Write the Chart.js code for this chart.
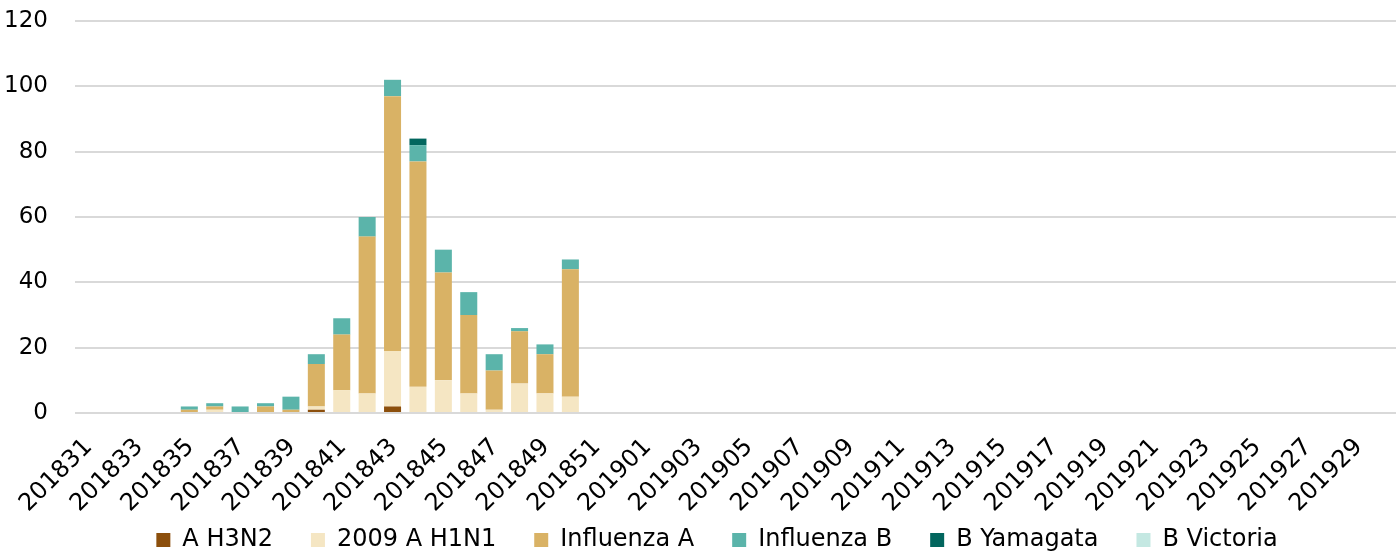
<!DOCTYPE html>
<html>
<head>
<title>Influenza per week</title>
<style>
    body { margin: 0; background: #fff; }
    #wrap { width: 1396px; height: 552px; position: relative; }
</style>
</head>
<body>
<div id="wrap"><canvas id="chart"></canvas></div>
<script src="https://cdn.jsdelivr.net/npm/chart.js@4/dist/chart.umd.min.js"></script>
<script>
// weken 201831 t/m 201930
const weeks = [
    '201831','201832','201833','201834','201835','201836','201837','201838','201839','201840','201841',
    '201842','201843','201844','201845','201846','201847','201848','201849','201850','201851','201852',
    '201901','201902','201903','201904','201905','201906','201907','201908','201909','201910',
    '201911','201912','201913','201914','201915','201916','201917','201918','201919','201920',
    '201921','201922','201923','201924','201925','201926','201927','201928','201929','201930'
];

const aH3N2 = [0,0,0,0,0,0,0,0,0,1,0,0,2,0,0,0,0,0,0,0,0,0,
    0,0,0,0,0,0,0,0,0,0,0,0,0,0,0,0,0,0,0,0,0,0,0,0,0,0,0,0,0,0];
const h1n1 = [0,0,0,0,0,1,0,0,0,1,7,6,17,8,10,6,1,9,6,5,0,0,
    0,0,0,0,0,0,0,0,0,0,0,0,0,0,0,0,0,0,0,0,0,0,0,0,0,0,0,0,0,0];
const influenzaA = [0,0,0,0,1,1,0,2,1,13,17,48,78,69,33,24,12,16,12,39,0,0,
    0,0,0,0,0,0,0,0,0,0,0,0,0,0,0,0,0,0,0,0,0,0,0,0,0,0,0,0,0,0];
const influenzaB = [0,0,0,0,1,1,2,1,4,3,5,6,5,5,7,7,5,1,3,3,0,0,
    0,0,0,0,0,0,0,0,0,0,0,0,0,0,0,0,0,0,0,0,0,0,0,0,0,0,0,0,0,0];
const bYamagata = [0,0,0,0,0,0,0,0,0,0,0,0,0,2,0,0,0,0,0,0,0,0,
    0,0,0,0,0,0,0,0,0,0,0,0,0,0,0,0,0,0,0,0,0,0,0,0,0,0,0,0,0,0];
const bVictoria = [0,0,0,0,0,0,0,0,0,0,0,0,0,0,0,0,0,0,0,0,0,0,
    0,0,0,0,0,0,0,0,0,0,0,0,0,0,0,0,0,0,0,0,0,0,0,0,0,0,0,0,0,0];

const yTicks = [0, 20, 40, 60, 80, 100, 120];

Chart.defaults.font.family = '"DejaVu Sans", sans-serif';
Chart.defaults.color = '#000';

function serie(label, data, color) {
    return { label: label, data: data, backgroundColor: color, borderWidth: 0 };
}

// legenda: ruime horizontale afstand, maar niet zo hoog
const legendPad = 38;

// legenda iets naar rechts en omhoog schuiven, zoals in Excel
const legendShift = {
    id: 'legendShift',
    afterLayout(chart) {
        const lg = chart.legend;
        if (!lg) return;
        lg.left += 34;
        lg.top = 540 - 12 - legendPad;
        lg.bottom = chart.height;
    }
};

new Chart(document.getElementById('chart'), {
    type: 'bar',
    data: {
        labels: weeks,
        datasets: [
            serie('A H3N2', aH3N2, '#8c4f0c'),
            serie('2009 A H1N1', h1n1, '#f5e6c3'),
            serie('Influenza A', influenzaA, '#d9b265'),
            serie('Influenza B', influenzaB, '#5bb4aa'),
            serie('B Yamagata', bYamagata, '#02665e'),
            serie('B Victoria', bVictoria, '#c4e8e2')
        ]
    },
    options: {
        responsive: true,
        maintainAspectRatio: false,
        animation: false,
        layout: { padding: { top: 21, right: 0, left: 4, bottom: 0 } },
        datasets: { bar: { barPercentage: 0.67, categoryPercentage: 1 } },
        scales: {
            x: {
                stacked: true,
                grid: { display: false, drawTicks: false },
                border: { display: false },
                ticks: {
                    autoSkip: false,
                    maxRotation: 45,
                    minRotation: 45,
                    padding: 20,
                    labelOffset: 1,
                    font: { size: 24 },
                    callback: function (val, i) { return i % 2 === 0 ? weeks[i] : ''; }
                },
                afterFit: function (scale) {
                    scale.height = 107;
                    scale.paddingLeft = 0;
                    scale.paddingRight = 0;
                }
            },
            y: {
                stacked: true,
                min: yTicks[0],
                max: yTicks[yTicks.length - 1],
                afterBuildTicks: function (axis) { axis.ticks = yTicks.map(v => ({ value: v })); },
                grid: { color: '#d9d9d9', lineWidth: 2, drawTicks: false },
                border: { display: false },
                ticks: { padding: 27, font: { size: 23 } },
                afterFit: function (scale) {
                    scale.width = 71;
                    scale.paddingTop = 0;
                    scale.paddingBottom = 0;
                }
            }
        },
        plugins: {
            tooltip: { enabled: false },
            legend: {
                position: 'bottom',
                maxHeight: 32,
                labels: {
                    boxWidth: 14,
                    boxHeight: 14,
                    padding: legendPad,
                    font: { size: 24 }
                }
            }
        }
    },
    plugins: [legendShift]
});
</script>
</body>
</html>
